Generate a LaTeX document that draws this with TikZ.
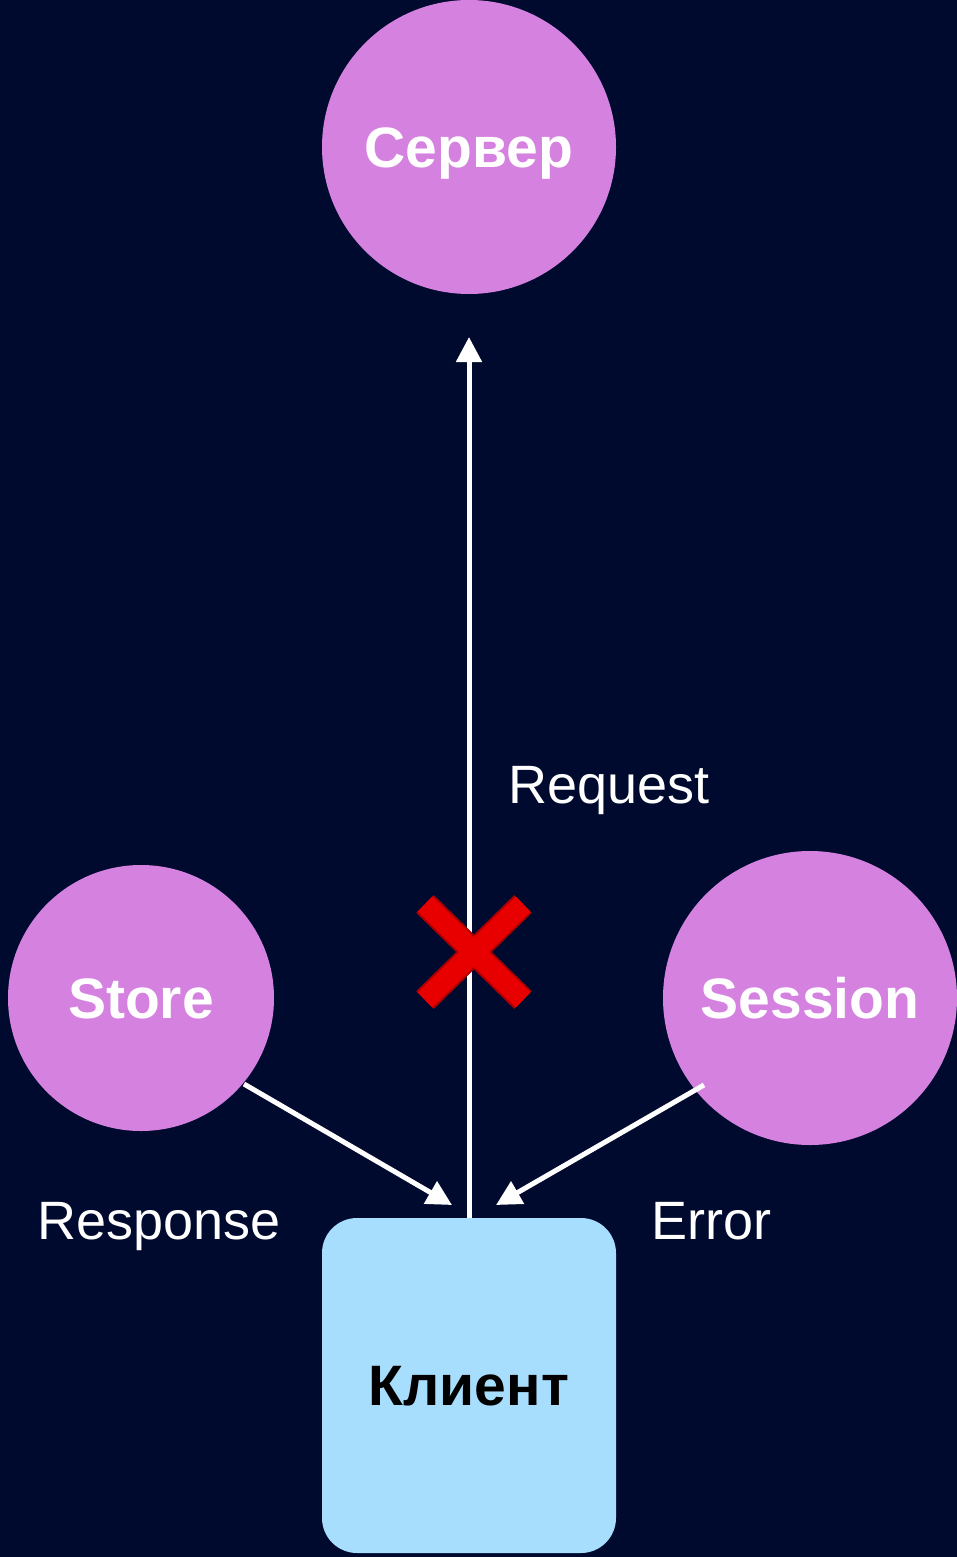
\documentclass[tikz,border=0pt]{standalone}
\usepackage{fontspec}
\setmainfont{Liberation Sans}
\usetikzlibrary{arrows.meta,calc}

\definecolor{bgnavy}{RGB}{0,10,46}
\definecolor{orchid}{RGB}{213,129,224}
\definecolor{skyblue}{RGB}{168,222,253}
\definecolor{crossred}{RGB}{232,0,0}
\definecolor{crossdark}{RGB}{170,0,0}

\tikzset{
  hub/.style={circle, fill=orchid, draw=none, inner sep=0pt, outer sep=0pt,
    text=white, font=\fontsize{28.5}{30}\selectfont\bfseries,
    text height=20.4pt, text depth=0pt},
  clientbox/.style={rectangle, rounded corners=17.5pt, fill=skyblue, draw=none,
    minimum width=147pt, minimum height=167.5pt, inner sep=0pt, outer sep=0pt,
    text=black, font=\fontsize{28.5}{30}\selectfont\bfseries,
    text height=20.4pt, text depth=0pt},
  flow/.style={draw=white, line width=2.5pt,
    -{Triangle[length=12.5pt,width=12.5pt]}},
  flowlabel/.style={text=white, font=\fontsize{27}{30}\selectfont,
    inner sep=0pt, anchor=base west},
}

\begin{document}
\begin{tikzpicture}[x=0.5pt,y=-0.5pt]
  % canvas
  \fill[bgnavy] (0,0) rectangle (957,1557);
  \useasboundingbox (0,0) rectangle (957,1557);

  % nodes
  \node[hub, minimum size=147pt] (server) at (469,147) {Сервер};
  \node[hub, minimum size=133pt] (store) at (141,998) {Store};
  \node[hub, minimum size=147pt] (session) at (810,998) {Session};
  \node[clientbox] (client) at (469,1385.5) {Клиент};

  % connector ends
  \coordinate (storeout) at ($(store.center)+(103,86)$);
  \coordinate (sessionout) at ($(session.center)+(-106,87)$);
  \coordinate (storein) at ($(client.north)+(-17,-13)$);
  \coordinate (sessionin) at ($(client.north)+(27,-13)$);

  % connectors
  \draw[flow, shorten >=21.5pt] (client.north) -- (server.south);
  \draw[flow] (storeout) -- (storein);
  \draw[flow] (sessionout) -- (sessionin);

  % blocked request mark
  \coordinate (block) at (474,952);
  \foreach \c/\w in {crossdark/12.5pt, crossred/10.5pt}{
    \draw[\c, line width=\w, line cap=butt]
      ($(block)+(-49,-48)$) -- ($(block)+(49,48)$);
    \draw[\c, line width=\w, line cap=butt]
      ($(block)+(49,-48)$) -- ($(block)+(-49,48)$);
  }

  % labels
  \node[flowlabel] (lreq) at (508,803) {Request};
  \node[flowlabel] (lresp) at (37,1239) {Response};
  \node[flowlabel] (lerr) at (651,1239) {Error};
\end{tikzpicture}
\end{document}
